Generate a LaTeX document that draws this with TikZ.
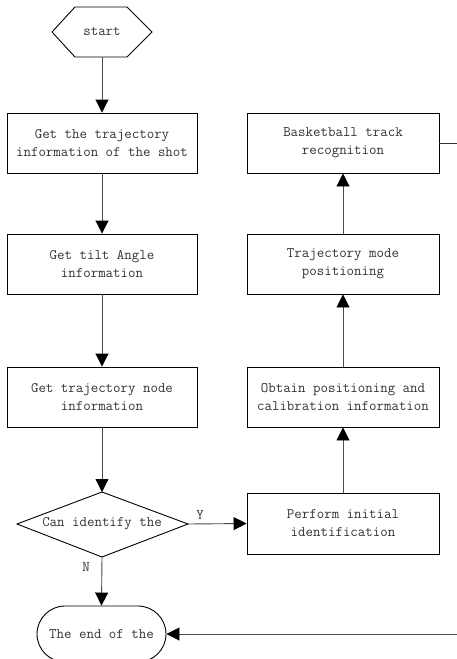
\documentclass[tikz,border=0pt]{standalone}
\usetikzlibrary{arrows.meta}
\begin{document}
\begin{tikzpicture}[x=1pt,y=-1pt,
  txt/.style={font=\ttfamily\fontsize{14.5}{18}\selectfont, text=black!80, align=center, inner sep=0pt},
  box/.style={txt, draw=black, line width=0.9pt, minimum width=190pt, minimum height=60pt},
  endst/.style={txt, draw=black, line width=0.9pt, rounded corners=28pt, minimum width=129pt, minimum height=56pt},
  shp/.style={draw=black, line width=0.9pt},
  conn/.style={draw=black!70, line width=0.9pt, -{Triangle[width=13pt,length=13pt,color=black]}},
  plain/.style={draw=black!80, line width=0.9pt},
  lbl/.style={font=\ttfamily\fontsize{14.5}{18}\selectfont, text=black!80, inner sep=0pt}]
\useasboundingbox (0,0) rectangle (457,659);
\clip (0,0) rectangle (457,659);
% start hexagon
\node[txt] (start) at (102,32) {start};
\coordinate (sL) at (52,32);
\coordinate (sTL) at (75,7);
\coordinate (sTR) at (127,7);
\coordinate (sR) at (152,32);
\coordinate (sBR) at (127,57);
\coordinate (sBL) at (75,57);
\coordinate (sB) at (102,57);
\draw[shp] (sL) -- (sTL) -- (sTR) -- (sR) -- (sBR) -- (sBL) -- cycle;
% left column
\node[box] (b1) at (102,143) {Get the trajectory\\information of the shot};
\node[box] (b2) at (102,264) {Get tilt Angle\\information};
\node[box] (b3) at (102,397) {Get trajectory node\\information};
% decision diamond
\node[txt] (dec) at (102,524) {Can identify the};
\coordinate (dL) at (17,524);
\coordinate (dT) at (102,492);
\coordinate (dR) at (188,524);
\coordinate (dB) at (102,557);
\draw[shp] (dL) -- (dT) -- (dR) -- (dB) -- cycle;
% end
\node[endst] (end) at (101.5,634) {The end of the};
% right column
\node[box, minimum width=192pt] (r1) at (343,143) {Basketball track\\recognition};
\node[box, minimum width=192pt] (r2) at (343,264) {Trajectory mode\\positioning};
\node[box, minimum width=192pt] (r3) at (343,397) {Obtain positioning and\\calibration information};
\node[box, minimum width=192pt, minimum height=61pt] (r4) at (343,523.5) {Perform initial\\identification};
\coordinate (rt) at (457,143);
\coordinate (rb) at (457,634);
% labels
\node[lbl] (y) at (200,515) {Y};
\node[lbl] (n) at (86,567) {N};
% connectors
\draw[conn] (sB) -- (b1.north);
\draw[conn] (b1.south) -- (b2.north);
\draw[conn] (b2.south) -- (b3.north);
\draw[conn] (b3.south) -- (dT);
\draw[conn] (dB) -- (end.north);
\draw[conn] (dR) -- (r4.west);
\draw[conn] (r4.north) -- (r3.south);
\draw[conn] (r3.north) -- (r2.south);
\draw[conn] (r2.north) -- (r1.south);
\draw[plain] (r1.east) -- (rt);
\draw[conn] (rb) -- (end.east);
\end{tikzpicture}
\end{document}
